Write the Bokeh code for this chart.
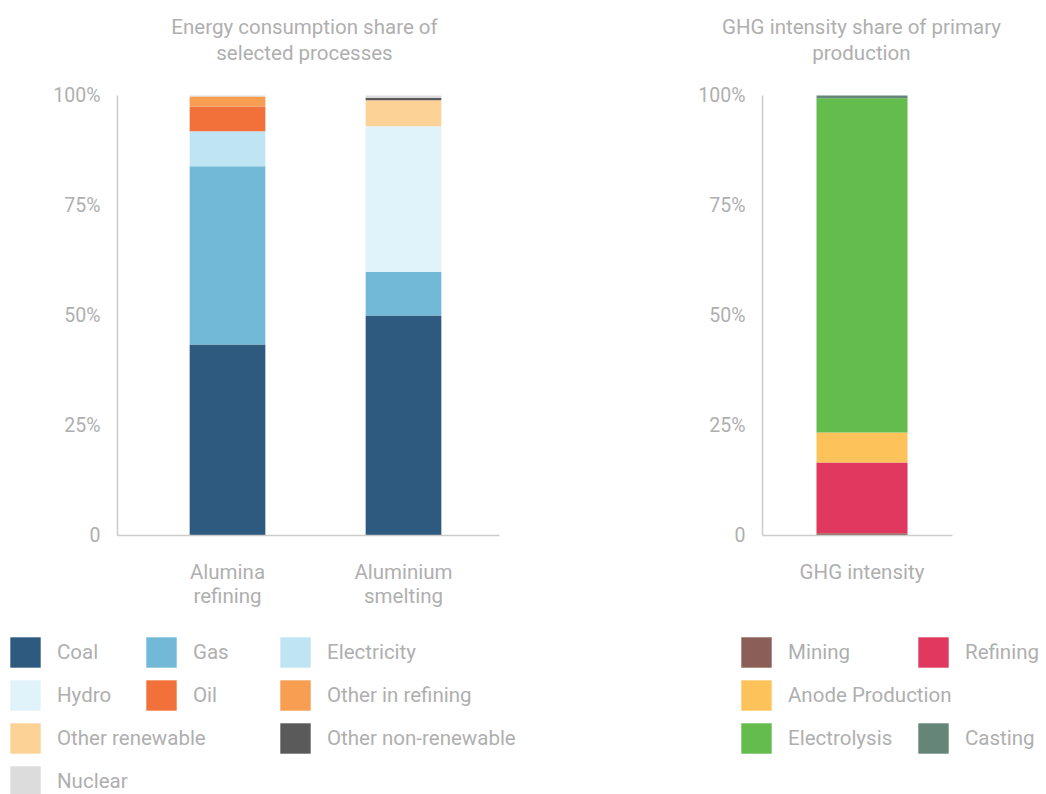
from bokeh.plotting import figure
from bokeh.models import (ColumnDataSource, FactorRange, Range1d, FixedTicker, LinearAxis,
                          CategoricalAxis, Legend, LegendItem, Label, Spacer)
from bokeh.layouts import row
from bokeh.embed import file_html
from bokeh.resources import INLINE

# ---------------- data ----------------
energy_processes = ["Alumina\nrefining", "Aluminium\nsmelting"]
energy_sources = ["Coal", "Gas", "Electricity", "Hydro", "Oil", "Other in refining",
                  "Other renewable", "Other non-renewable", "Nuclear"]
coal = [43.4, 50.0]
gas = [40.5, 9.9]
electricity = [8.0, 0.0]
hydro = [0.0, 33.1]
oil = [5.6, 0.0]
other_in_refining = [2.3, 0.0]
other_renewable = [0.0, 5.9]
other_non_renewable = [0.0, 0.6]
nuclear = [0.2, 0.5]
energy_colors = ["#2e5a80", "#71b9d6", "#bfe5f4", "#e0f2fa", "#f2713a", "#f79e52",
                 "#fcd297", "#5a5a5a", "#dcdcdc"]

ghg_categories = ["GHG intensity"]
ghg_stages = ["Mining", "Refining", "Anode Production", "Electrolysis", "Casting"]
mining = [0.5]
refining = [16.1]
anode_production = [6.8]
electrolysis = [76.0]
casting = [0.6]
ghg_colors = ["#8b5e57", "#e0385e", "#fdc35a", "#63bc4b", "#648578"]

y_ticks = [0, 25, 50, 75, 100]
y_tick_labels = ["0", "25%", "50%", "75%", "100%"]

TXT = "#afafaf"
FONT = "Roboto"
FS = "20.5px"
H = 794
W1, GAP, W2 = 630, 47, 369
# vertical scale: 0% at 535 px, 100% at 95 px from the top of a 794 px canvas
Y0, Y100 = 535, 95
ppu = (Y0 - Y100) / 100.0
y_range_all = (-(H - Y0) / ppu, 100 + Y100 / ppu)


def base_fig(x_range, width):
    p = figure(x_range=x_range, y_range=Range1d(*y_range_all), width=width, height=H,
               x_axis_type=None, y_axis_type=None, min_border=0,
               output_backend="svg", toolbar_location=None, title=None)
    p.grid.visible = False
    p.outline_line_color = None
    return p


def add_axes(p, y_axis_at, x_bounds):
    yax = LinearAxis(fixed_location=y_axis_at, bounds=(0, 100),
                     ticker=FixedTicker(ticks=y_ticks),
                     major_label_overrides={t: l for t, l in zip(y_ticks, y_tick_labels)})
    xax = CategoricalAxis(fixed_location=0, bounds=x_bounds)
    for ax in (xax, yax):
        ax.axis_line_color = "#cccccc"
        ax.axis_line_width = 1.5
        ax.major_tick_line_color = None
        ax.minor_tick_line_color = None
        ax.major_label_text_color = TXT
        ax.major_label_text_font = FONT
        ax.major_label_text_font_size = FS
    yax.major_label_text_font_size = "19.5px"
    yax.major_label_standoff = 11
    xax.major_label_standoff = 18
    xax.major_label_text_line_height = 1.0
    p.add_layout(yax, "left")
    p.add_layout(xax, "below")


def add_title(p, text, cx):
    p.add_layout(Label(x=cx, y=H - 14, x_units="screen", y_units="screen", text=text,
                       text_align="center", text_baseline="top", text_color=TXT,
                       text_font=FONT, text_font_size=FS, text_line_height=1.1))


def legend_col(p, items, x, y):
    # area-glyph legend swatches are drawn inset by 10% of the glyph box
    lg = Legend(items=items, location=(x, y), orientation="vertical",
                glyph_width=38, glyph_height=38, label_standoff=13, spacing=5,
                padding=0, margin=0, border_line_color=None, background_fill_alpha=0,
                label_text_color=TXT, label_text_font=FONT, label_text_font_size=FS,
                label_height=38)
    p.add_layout(lg, "center")


# ---------------- left chart ----------------
src1 = ColumnDataSource(dict(proc=energy_processes, Coal=coal, Gas=gas, Electricity=electricity,
                             Hydro=hydro, Oil=oil, **{"Other in refining": other_in_refining,
                                                      "Other renewable": other_renewable,
                                                      "Other non-renewable": other_non_renewable},
                             Nuclear=nuclear))
unit1 = 176.0
pad1 = (W1 / unit1 - len(energy_processes)) / 2
p1 = base_fig(FactorRange(*energy_processes, range_padding=pad1), W1)
r1 = p1.vbar_stack(energy_sources, x="proc", width=0.43, color=energy_colors,
                   line_color=None, source=src1)
add_axes(p1, 117 / unit1 - pad1, (117 / unit1 - pad1, 499 / unit1 - pad1))
add_title(p1, "Energy consumption share of\nselected processes", 304)
rm1 = dict(zip(energy_sources, r1))
for labels, x, y in [(["Coal", "Hydro", "Other renewable", "Nuclear"], 6, -6),
                     (["Gas", "Oil"], 142, 80),
                     (["Electricity", "Other in refining", "Other non-renewable"], 276, 37)]:
    legend_col(p1, [LegendItem(label=s, renderers=[rm1[s]]) for s in labels], x, y)

# ---------------- right chart ----------------
src2 = ColumnDataSource(dict(cat=ghg_categories, Mining=mining, Refining=refining,
                             **{"Anode Production": anode_production},
                             Electrolysis=electrolysis, Casting=casting))
X2 = W1 + GAP
unit2 = 182.0
pad2 = (W2 / unit2 - len(ghg_categories)) / 2
p2 = base_fig(FactorRange(*ghg_categories, range_padding=2 * pad2), W2)
r2 = p2.vbar_stack(ghg_stages, x="cat", width=0.5, color=ghg_colors,
                   line_color=None, source=src2)
add_axes(p2, (762 - X2) / unit2 - pad2, ((762 - X2) / unit2 - pad2, (952 - X2) / unit2 - pad2))
add_title(p2, "GHG intensity share of primary\nproduction", 861 - X2)
rm2 = dict(zip(ghg_stages, r2))
for labels, x, y in [(["Mining", "Anode Production", "Electrolysis"], 737 - X2, 37),
                     (["Refining"], 914 - X2, 123),
                     (["Casting"], 914 - X2, 37)]:
    legend_col(p2, [LegendItem(label=s, renderers=[rm2[s]]) for s in labels], x, y)

layout = row(p1, Spacer(width=GAP, height=H), p2)
open("out.html", "w").write(file_html(layout, INLINE))
